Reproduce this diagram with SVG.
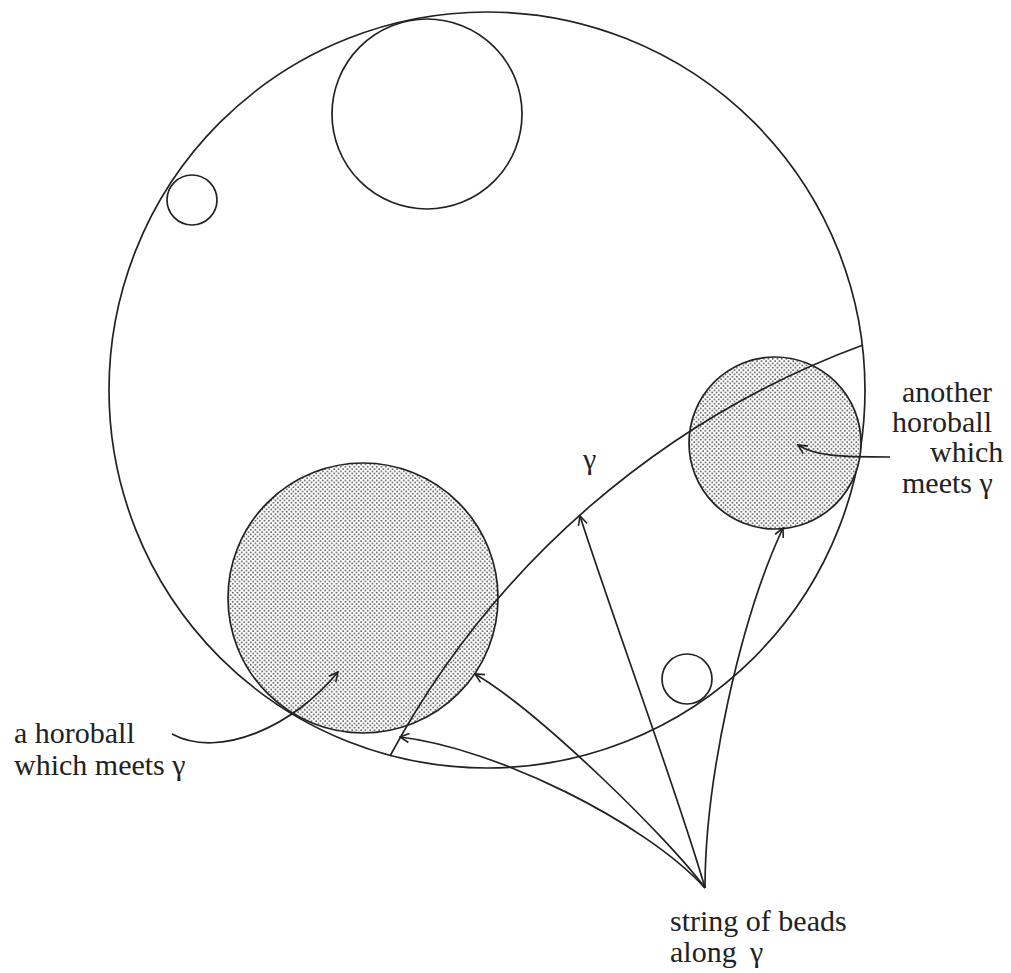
<svg xmlns="http://www.w3.org/2000/svg" width="1011" height="973" viewBox="0 0 1011 973">
  <style>
    .ln { fill: none; stroke: #222; stroke-width: 1.7; }
    .hb { fill: url(#dots); stroke: #222; stroke-width: 1.7; }
    text { font-family: 'Liberation Serif', 'DejaVu Serif', serif; font-size: 30px; fill: #222; }
  </style>
  <defs>
    <pattern id="dots" patternUnits="userSpaceOnUse" width="4.5" height="4.5">
      <rect width="4.5" height="4.5" fill="#fff"/>
      <circle cx="1.1" cy="1.1" r="0.8" fill="#333"/>
      <circle cx="3.35" cy="3.35" r="0.8" fill="#333"/>
    </pattern>
    <marker id="arr" viewBox="-11 -6 12 12" refX="0" refY="0" markerWidth="12" markerHeight="12" markerUnits="userSpaceOnUse" orient="auto">
      <path d="M -9 -4.5 L 0 0 L -9 4.5" fill="none" stroke="#222" stroke-width="1.6"/>
    </marker>
  </defs>
  <rect width="1011" height="973" fill="#fff"/>

  <g id="disk">
    <circle cx="487" cy="390" r="378" class="ln"/>
  </g>
  <g id="horoball-top">
    <circle cx="427" cy="114" r="95" class="ln"/>
  </g>
  <g id="horoball-small-left">
    <circle cx="192" cy="200" r="25" class="ln"/>
  </g>
  <g id="horoball-small-right">
    <circle cx="687" cy="679" r="25" class="ln"/>
  </g>
  <g id="horoball-left">
    <circle cx="363" cy="598" r="135" class="hb"/>
  </g>
  <g id="horoball-right">
    <circle cx="775" cy="443" r="86" class="hb"/>
  </g>

  <g id="connectors">
    <path id="gamma" d="M 863 345 A 884 884 0 0 0 390 756" class="ln"/>
    <path d="M 705 888 C 645 822, 495 748, 400 737" class="ln" marker-end="url(#arr)"/>
    <path d="M 705 888 C 670 840, 540 712, 475 674" class="ln" marker-end="url(#arr)"/>
    <path d="M 705 888 C 680 800, 610 610, 580 516" class="ln" marker-end="url(#arr)"/>
    <path d="M 705 888 C 705 780, 740 620, 783 528" class="ln" marker-end="url(#arr)"/>
    <path d="M 172 734 C 220 760, 295 725, 338 672" class="ln" marker-end="url(#arr)"/>
    <path d="M 890 457 C 840 457, 815 456, 798 445" class="ln" marker-end="url(#arr)"/>
  </g>

  <g id="labels">
    <text x="583" y="469">γ</text>
    <text x="14" y="743">a horoball</text>
    <text x="14" y="775">which meets γ</text>
    <text x="902" y="402">another</text>
    <text x="892" y="432">horoball</text>
    <text x="930" y="462">which</text>
    <text x="902" y="493">meets γ</text>
    <text x="670" y="931">string of beads</text>
    <text x="670" y="962">along</text>
    <text x="750" y="962">γ</text>
  </g>
</svg>
